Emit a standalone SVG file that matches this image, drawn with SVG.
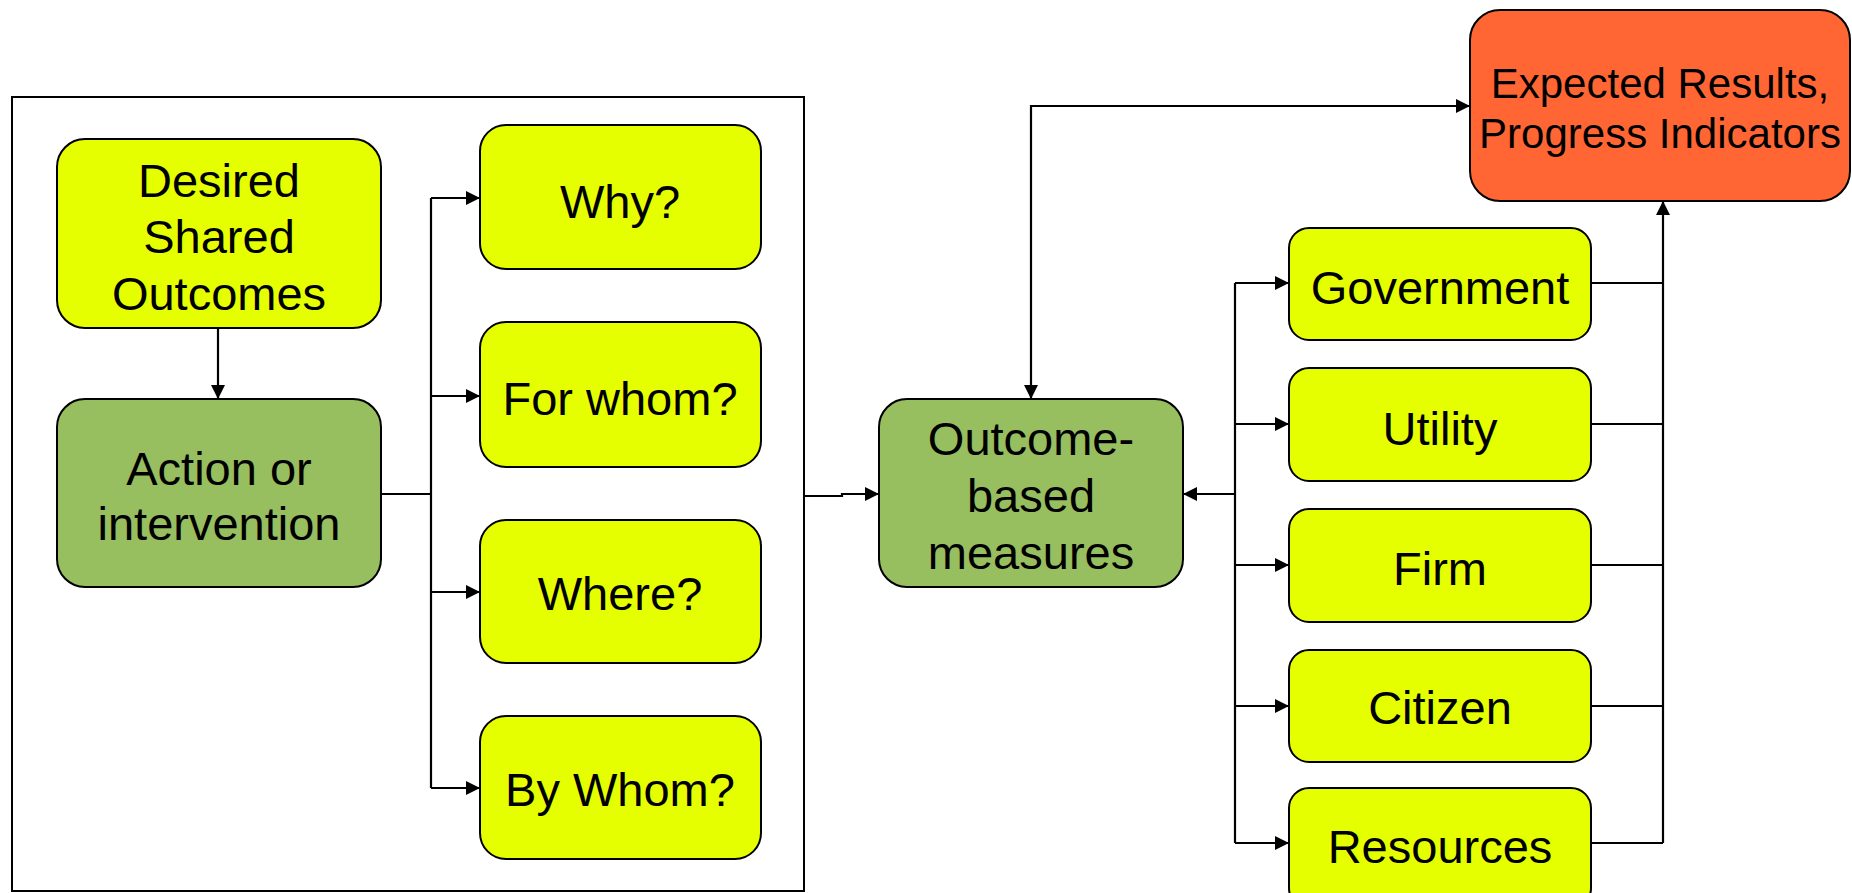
<svg xmlns="http://www.w3.org/2000/svg" width="1852" height="893" viewBox="0 0 1852 893">
<defs>
<marker id="arr" viewBox="0 0 10 10" refX="10" refY="5" markerWidth="14" markerHeight="14" markerUnits="userSpaceOnUse" orient="auto-start-reverse">
<path d="M0,0 L10,5 L0,10 z" fill="#000"/>
</marker>
<style>
.yel{fill:#E5FF00;stroke:#000;stroke-width:2}
.grn{fill:#97BE5F;stroke:#000;stroke-width:2}
.org{fill:#FF6633;stroke:#000;stroke-width:2}
.t{font-family:"Liberation Sans",Arial,sans-serif;font-size:47px;fill:#000;text-anchor:middle}
.ts{font-family:"Liberation Sans",Arial,sans-serif;font-size:42px;fill:#000;text-anchor:middle}
.c{fill:none;stroke:#000;stroke-width:2.2}
.ca{fill:none;stroke:#000;stroke-width:2.2;marker-end:url(#arr)}
</style>
</defs>
<rect width="1852" height="893" fill="#fff"/>
<rect id="frame" x="12" y="97" width="792" height="794" fill="none" stroke="#000" stroke-width="2"/>
<g id="connectors">
<path class="ca" d="M218,328 V399"/>
<path class="c" d="M381,494 H431"/>
<path class="c" d="M431,198 V788"/>
<path class="ca" d="M431,198 H480"/>
<path class="ca" d="M431,396 H480"/>
<path class="ca" d="M431,592 H480"/>
<path class="ca" d="M431,788 H480"/>
<path class="ca" d="M804,496 H842 V494 H879"/>
<path class="ca" d="M1031,399 V106 H1470" style="marker-start:url(#arr)"/>
<path class="ca" d="M1235,494 H1183"/>
<path class="c" d="M1235,283 V843"/>
<path class="ca" d="M1235,283 H1289"/>
<path class="ca" d="M1235,424 H1289"/>
<path class="ca" d="M1235,565 H1289"/>
<path class="ca" d="M1235,706 H1289"/>
<path class="ca" d="M1235,843 H1289"/>
<path class="c" d="M1591,283 H1663 M1591,424 H1663 M1591,565 H1663 M1591,706 H1663 M1591,843 H1663"/>
<path class="ca" d="M1663,843 V201"/>
</g>
<g id="desired"><rect class="yel" x="57" y="139" width="324" height="189" rx="28"/>
<text class="t" x="219" y="197">Desired</text><text class="t" x="219" y="253">Shared</text><text class="t" x="219" y="310">Outcomes</text></g>
<g id="action"><rect class="grn" x="57" y="399" width="324" height="188" rx="28"/>
<text class="t" x="219" y="485">Action or</text><text class="t" x="219" y="540">intervention</text></g>
<g id="why"><rect class="yel" x="480" y="125" width="281" height="144" rx="26"/><text class="t" x="620" y="218">Why?</text></g>
<g id="forwhom"><rect class="yel" x="480" y="322" width="281" height="145" rx="26"/><text class="t" x="620" y="415">For whom?</text></g>
<g id="where"><rect class="yel" x="480" y="520" width="281" height="143" rx="26"/><text class="t" x="620" y="610">Where?</text></g>
<g id="bywhom"><rect class="yel" x="480" y="716" width="281" height="143" rx="26"/><text class="t" x="620" y="806">By Whom?</text></g>
<g id="outcome"><rect class="grn" x="879" y="399" width="304" height="188" rx="28"/>
<text class="t" x="1031" y="455">Outcome-</text><text class="t" x="1031" y="512">based</text><text class="t" x="1031" y="569">measures</text></g>
<g id="expected"><rect class="org" x="1470" y="10" width="380" height="191" rx="30"/>
<text class="ts" x="1660" y="98">Expected Results,</text><text class="ts" x="1660" y="148">Progress Indicators</text></g>
<g id="government"><rect class="yel" x="1289" y="228" width="302" height="112" rx="20"/><text class="t" x="1440" y="304">Government</text></g>
<g id="utility"><rect class="yel" x="1289" y="368" width="302" height="113" rx="20"/><text class="t" x="1440" y="445">Utility</text></g>
<g id="firm"><rect class="yel" x="1289" y="509" width="302" height="113" rx="20"/><text class="t" x="1440" y="585">Firm</text></g>
<g id="citizen"><rect class="yel" x="1289" y="650" width="302" height="112" rx="20"/><text class="t" x="1440" y="724">Citizen</text></g>
<g id="resources"><rect class="yel" x="1289" y="788" width="302" height="120" rx="20"/><text class="t" x="1440" y="863">Resources</text></g>
</svg>
